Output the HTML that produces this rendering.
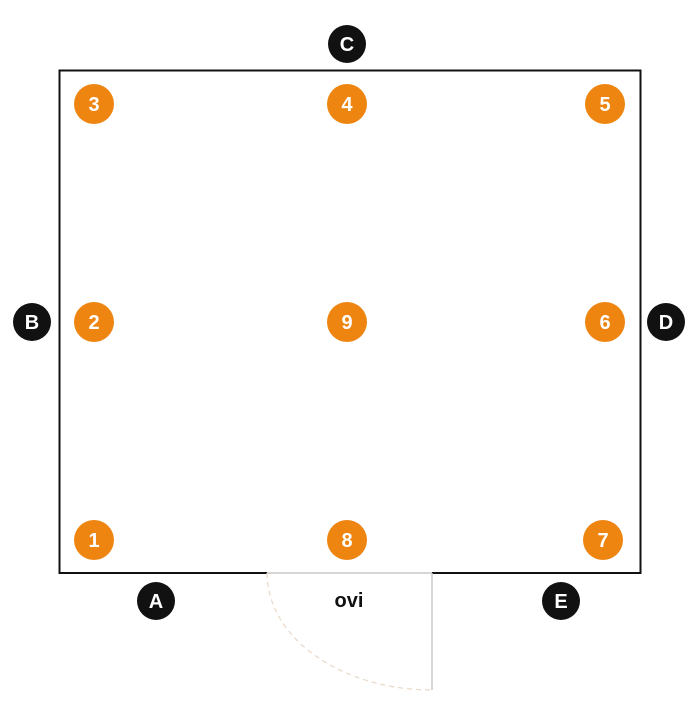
<!DOCTYPE html>
<html><head><style>html,body{margin:0;padding:0;background:#fff}</style></head>
<body>
<svg width="700" height="714" xmlns="http://www.w3.org/2000/svg" font-family="Liberation Sans, sans-serif" font-weight="bold">
<path d="M267 573 H59.5 V70.5 H640.5 V573 H432" fill="none" stroke="#111" stroke-width="2"/>
<line x1="267" y1="573" x2="432" y2="573" stroke="#c8c8c8" stroke-width="1.5"/>
<line x1="432" y1="573" x2="432" y2="690" stroke="#c8c8c8" stroke-width="1.5"/>
<path d="M267 573 A165 117 0 0 0 432 690" fill="none" stroke="#e8d8c8" stroke-width="1.2" stroke-dasharray="5,4"/>
<text x="349" y="607" font-size="20" text-anchor="middle" fill="#111">ovi</text>
<g fill="#ee8511">
<circle cx="94" cy="104" r="20"/><circle cx="347" cy="104" r="20"/><circle cx="605" cy="104" r="20"/>
<circle cx="94" cy="322" r="20"/><circle cx="347" cy="322" r="20"/><circle cx="605" cy="322" r="20"/>
<circle cx="94" cy="540" r="20"/><circle cx="347" cy="540" r="20"/><circle cx="603" cy="540" r="20"/>
</g>
<g fill="#111">
<circle cx="347" cy="44" r="19"/><circle cx="32" cy="322" r="19"/><circle cx="666" cy="322" r="19"/>
<circle cx="156" cy="601" r="19"/><circle cx="561" cy="601" r="19"/>
</g>
<g fill="#fff" font-size="20" text-anchor="middle">
<text x="94" y="111">3</text><text x="347" y="111">4</text><text x="605" y="111">5</text>
<text x="94" y="329">2</text><text x="347" y="329">9</text><text x="605" y="329">6</text>
<text x="94" y="547">1</text><text x="347" y="547">8</text><text x="603" y="547">7</text>
<text x="347" y="51">C</text><text x="32" y="329">B</text><text x="666" y="329">D</text>
<text x="156" y="608">A</text><text x="561" y="608">E</text>
</g>
</svg>
</body></html>
